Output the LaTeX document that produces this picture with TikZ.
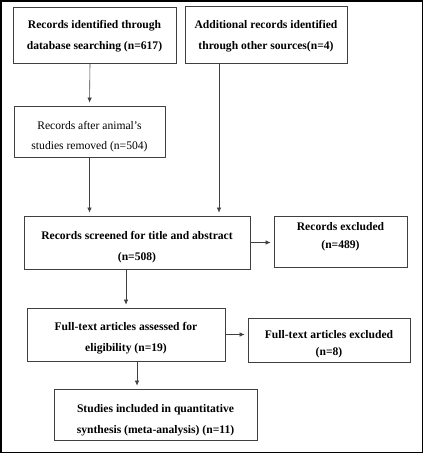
\documentclass[tikz,border=0pt]{standalone}
\usepackage{fontspec}
\setmainfont{Liberation Serif}
\usetikzlibrary{arrows.meta}
\usetikzlibrary{positioning}

\begin{document}
\begin{tikzpicture}[
		x=1pt, y=-1pt,
		box/.style={draw=black!75, line width=0.8pt, align=center, inner sep=0pt,
			font=\fontsize{11.6}{21}\selectfont\bfseries},
		plainbox/.style={box, font=\fontsize{11.6}{20}\selectfont},
		flow/.style={draw=black!75, line width=0.6pt, -{Latex[length=5pt,width=4.5pt]}, shorten >=3pt},
	]
		\useasboundingbox (0,0) rectangle (424,454);
		\draw[line width=1.8pt] (1,1) rectangle (422.5,452.5);

		\begin{scope}
			\node (db) [box, minimum width=163pt, minimum height=56pt, text height=32pt] at (94.5,35)
				{Records identified through\\database searching (n=617)};
			\node (other) [box, minimum width=162pt, minimum height=57pt, text height=33pt] at (266,34.5)
				{Additional records identified\\through other sources(n=4)};
			\node (removed) [plainbox, minimum width=151pt, minimum height=51pt, text height=38pt] at (89.5,131.5)
				{Records after animal’s\\studies removed (n=504)};
		\end{scope}

		\begin{scope}
			\node (screen) [box, minimum width=226pt, minimum height=53pt, text height=38pt] at (137,242.5)
				{Records screened for title and abstract\\(n=508)};
			\node (excl) [box, minimum width=133pt, minimum height=51pt, text height=17pt,
				font=\fontsize{11.6}{18}\selectfont\bfseries] at (340.5,241.5)
				{Records excluded\\(n=489)};
			\node (full) [box, minimum width=198pt, minimum height=53pt, text height=36pt] at (126,334.5)
				{Full-text articles assessed for\\eligibility (n=19)};
			\node (fullexcl) [box, minimum width=162pt, minimum height=44pt, text height=34pt,
				font=\fontsize{11.6}{17}\selectfont\bfseries] at (329,340)
				{Full-text articles excluded\\(n=8)};
			\node (incl) [box, minimum width=203pt, minimum height=51pt, text height=40pt] at (155.5,414.5)
				{Studies included in quantitative\\synthesis (meta-analysis) (n=11)};
		\end{scope}

		\draw[flow] ([xshift=-4.5pt]db.south) -- (removed.north);
		\draw[flow] (removed.south) -- (removed.south|-screen.north);
		\draw[flow] ([xshift=-47pt]other.south) -- ([xshift=-47pt]other.south|-screen.north);
		\draw[flow] (screen.east) -- (screen.east-|excl.west);
		\draw[flow] (full.north|-screen.south) -- (full.north);
		\draw[flow] (full.east) -- (full.east-|fullexcl.west);
		\draw[flow] ([xshift=11pt]full.south) -- ([xshift=11pt]full.south|-incl.north);
	\end{tikzpicture}
\end{document}
